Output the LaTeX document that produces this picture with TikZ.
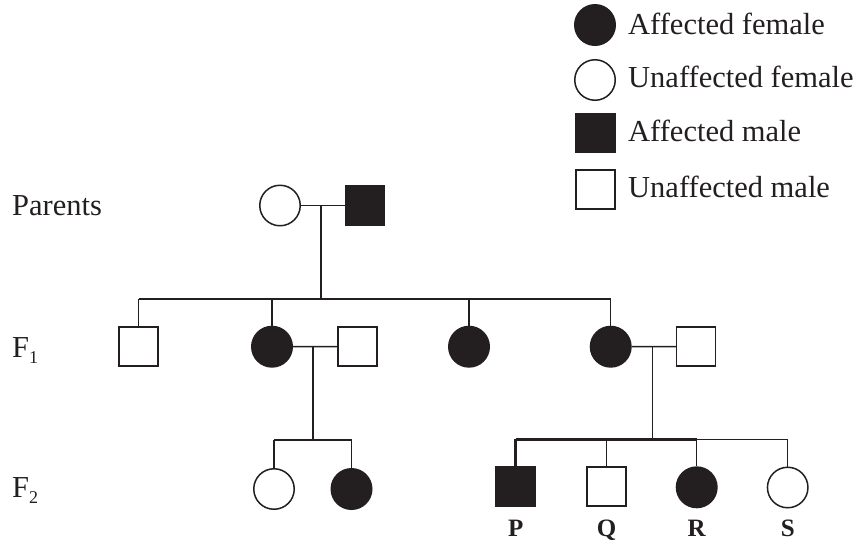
\documentclass[tikz,border=0pt]{standalone}
\usepackage{fontspec}
\setmainfont{Liberation Serif}
\definecolor{ink}{HTML}{231F20}
\begin{document}
\begin{tikzpicture}[x=1pt,y=-1pt,
  fem/.style={circle,draw=ink,line width=1.5pt,minimum size=40.5pt,inner sep=0pt},
  mal/.style={rectangle,draw=ink,line width=1.5pt,minimum size=39pt,inner sep=0pt},
  aff/.style={fill=ink},
  unaff/.style={fill=white},
  lnk/.style={draw=ink,line width=1.5pt},
  sib/.style={draw=ink,line width=2.8pt},
  lbl/.style={anchor=base west,inner sep=0pt,font=\fontsize{30.5}{34}\selectfont,text=ink},
  let/.style={anchor=base,inner sep=0pt,font=\fontsize{25}{28}\selectfont\bfseries,text=ink}]
\useasboundingbox (0,0) rectangle (866,547);

% legend
\node[fem,aff]   (lg1) at (595,25) {};
\node[fem,unaff] (lg2) at (595,80) {};
\node[mal,aff]   (lg3) at (595.5,133) {};
\node[mal,unaff] (lg4) at (595.5,189.5) {};
\node[lbl] (lt1) at (628,34) {Affected female};
\node[lbl] (lt2) at (628,87) {Unaffected female};
\node[lbl] (lt3) at (628,141) {Affected male};
\node[lbl] (lt4) at (628,197) {Unaffected male};

% generation labels
\node[lbl] (gP) at (12,215) {Parents};
\node[lbl] (g1) at (12,357) {F\raisebox{-6pt}{\fontsize{18}{18}\selectfont 1}};
\node[lbl] (g2) at (12,497) {F\raisebox{-6pt}{\fontsize{18}{18}\selectfont 2}};

% parents
\node[fem,unaff] (pf) at (280,205.5) {};
\node[mal,aff]   (pm) at (365,205.5) {};
\coordinate (pc) at (321,205.5);
\coordinate (s1) at (321,299);

% F1
\node[mal,unaff] (a) at (138.5,346.5) {};
\node[fem,aff]   (b) at (272,346.7) {};
\node[mal,unaff] (c) at (357.5,346.5) {};
\node[fem,aff]   (d) at (469,346.7) {};
\node[fem,aff]   (e) at (610.7,346.7) {};
\node[mal,unaff] (f) at (696.2,346.5) {};
\coordinate (bc) at (313,346.7);
\coordinate (ef) at (652.3,346.7);
\coordinate (s2) at (313,440);
\coordinate (s3) at (652.3,439.3);

% F2
\node[fem,unaff] (g) at (274,489) {};
\node[fem,aff]   (h) at (351.5,489) {};
\node[mal,aff]   (p) at (515.5,486.3) {};
\node[mal,unaff] (q) at (606.3,486.3) {};
\node[fem,aff]   (r) at (696.7,487.3) {};
\node[fem,unaff] (s) at (787.7,487.5) {};
\node[let] (lp) at (515.7,536.7) {P};
\node[let] (lq) at (606.7,536.7) {Q};
\node[let] (lr) at (696.7,536.7) {R};
\node[let] (ls) at (787.7,536.7) {S};

% parents connectors
\draw[lnk] (pf.east) -- (pm.west);
\draw[lnk] (pc) -- (s1);
\draw[sib] (a.north |- s1) -- (d.north |- s1);
\draw[lnk] (d.north |- s1) -- (e.north |- s1);
\draw[lnk] (a.north |- s1) -- (a.north);
\draw[lnk] (b.north |- s1) -- (b.north);
\draw[lnk] (d.north |- s1) -- (d.north);
\draw[lnk] (e.north |- s1) -- (e.north);

% F1 couple 1
\draw[lnk] (b.east) -- (c.west);
\draw[lnk] (bc) -- (s2);
\draw[lnk] (g.north |- s2) -- (h.north |- s2);
\draw[lnk] (g.north |- s2) -- (g.north);
\draw[lnk] (h.north |- s2) -- (h.north);

% F1 couple 2
\draw[lnk] (e.east) -- (f.west);
\draw[lnk] (ef) -- (s3);
\draw[sib] (p.north |- s3) -- (r.north |- s3);
\draw[lnk] (r.north |- s3) -- (s.north |- s3);
\draw[sib] (p.north |- s3) -- (p.north);
\draw[lnk] (q.north |- s3) -- (q.north);
\draw[lnk] (r.north |- s3) -- (r.north);
\draw[lnk] (s.north |- s3) -- (s.north);
\end{tikzpicture}
\end{document}
